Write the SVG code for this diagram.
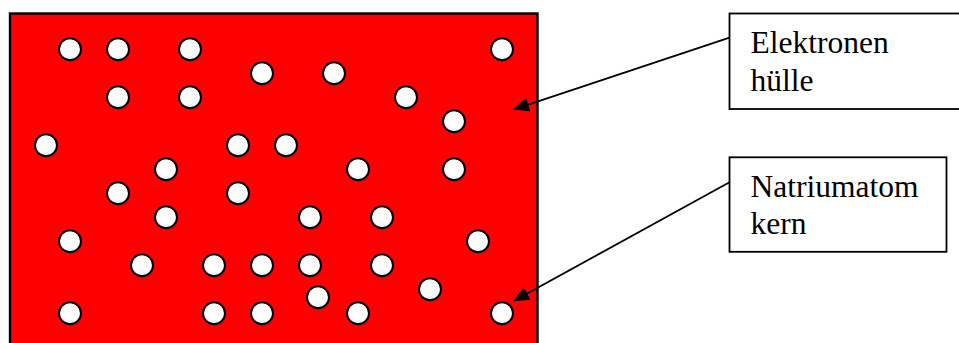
<svg xmlns="http://www.w3.org/2000/svg" width="959" height="343" viewBox="0 0 959 343">
<style>
.e{fill:#fff;stroke:#000;stroke-width:2}
.box{fill:#fff;stroke:#000;stroke-width:1.8}
.lbl{font-family:"Liberation Serif","Times New Roman",serif;font-size:31.5px;fill:#000}
.con{stroke:#000;stroke-width:1.8;fill:none}
</style>
<defs>
<marker id="ah" markerWidth="16" markerHeight="14" refX="15" refY="7" orient="auto" markerUnits="userSpaceOnUse">
<path d="M0,0 L16,7 L0,14 Z" fill="#000"/>
</marker>
</defs>
<g id="atom">
<rect x="10" y="13.5" width="527.5" height="340" fill="#ff0000" stroke="#000" stroke-width="2.4"/>
<circle class="e" cx="70" cy="49.3" r="11"/>
<circle class="e" cx="118" cy="49.3" r="11"/>
<circle class="e" cx="190" cy="49.3" r="11"/>
<circle class="e" cx="502" cy="49.3" r="11"/>
<circle class="e" cx="262" cy="73.3" r="11"/>
<circle class="e" cx="334" cy="73.3" r="11"/>
<circle class="e" cx="118" cy="97.3" r="11"/>
<circle class="e" cx="190" cy="97.3" r="11"/>
<circle class="e" cx="406" cy="97.3" r="11"/>
<circle class="e" cx="454" cy="121.3" r="11"/>
<circle class="e" cx="46" cy="145.3" r="11"/>
<circle class="e" cx="238" cy="145.3" r="11"/>
<circle class="e" cx="286" cy="145.3" r="11"/>
<circle class="e" cx="166" cy="169.3" r="11"/>
<circle class="e" cx="358" cy="169.3" r="11"/>
<circle class="e" cx="454" cy="169.3" r="11"/>
<circle class="e" cx="118" cy="193.3" r="11"/>
<circle class="e" cx="238" cy="193.3" r="11"/>
<circle class="e" cx="166" cy="217.3" r="11"/>
<circle class="e" cx="310" cy="217.3" r="11"/>
<circle class="e" cx="382" cy="217.3" r="11"/>
<circle class="e" cx="70" cy="241.3" r="11"/>
<circle class="e" cx="478" cy="241.3" r="11"/>
<circle class="e" cx="142" cy="265.3" r="11"/>
<circle class="e" cx="214" cy="265.3" r="11"/>
<circle class="e" cx="262" cy="265.3" r="11"/>
<circle class="e" cx="310" cy="265.3" r="11"/>
<circle class="e" cx="382" cy="265.3" r="11"/>
<circle class="e" cx="430" cy="289.3" r="11"/>
<circle class="e" cx="318" cy="297.3" r="11"/>
<circle class="e" cx="70" cy="313.3" r="11"/>
<circle class="e" cx="214" cy="313.3" r="11"/>
<circle class="e" cx="262" cy="313.3" r="11"/>
<circle class="e" cx="358" cy="313.3" r="11"/>
<circle class="e" cx="502" cy="313.3" r="11"/>
</g>
<g id="label-elektronenhuelle">
<rect class="box" x="729.5" y="13.5" width="240" height="95.5"/>
<text class="lbl" x="750.5" y="53.3">Elektronen</text>
<text class="lbl" x="750.5" y="90.7">hülle</text>
</g>
<g id="label-natriumatomkern">
<rect class="box" x="729.5" y="157.3" width="217" height="94.5"/>
<text class="lbl" x="750.5" y="196.7">Natriumatom</text>
<text class="lbl" x="750.5" y="234">kern</text>
</g>
<g id="connectors">
<line class="con" x1="729.5" y1="37.7" x2="514" y2="109.3" marker-end="url(#ah)"/>
<line class="con" x1="729.5" y1="182.3" x2="514" y2="300.7" marker-end="url(#ah)"/>
</g>
</svg>
